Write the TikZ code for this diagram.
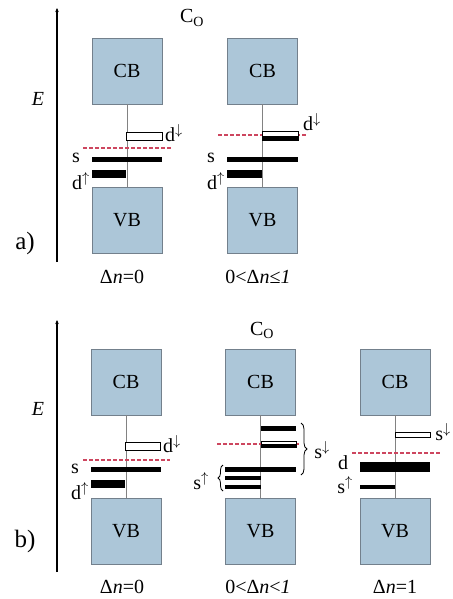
\documentclass[tikz,border=0pt]{standalone}
\usepackage{fontspec}
\setmainfont{Liberation Serif}
\usetikzlibrary{arrows.meta,decorations.pathreplacing}
\definecolor{bandfill}{RGB}{172,198,216}
\definecolor{bandedge}{RGB}{115,128,140}
\definecolor{fermi}{RGB}{205,70,95}
\definecolor{midline}{RGB}{130,130,130}
\begin{document}
\begin{tikzpicture}[x=1pt,y=-1pt,
  band/.style={draw=bandedge, fill=bandfill, line width=0.7pt, minimum width=70pt, minimum height=66pt, inner sep=0pt, font=\fontsize{20}{24}\selectfont},
  lbl/.style={font=\fontsize{20}{24}\selectfont, inner sep=0pt},
  biglbl/.style={font=\fontsize{25}{30}\selectfont, inner sep=0pt},
  gap/.style={draw=midline, line width=0.5pt},
  fermiline/.style={draw=fermi, line width=1.2pt, dash pattern=on 4pt off 2pt},
  openbar/.style={draw=black, fill=white, line width=1pt},
  axis/.style={line width=1.4pt, -{Stealth[length=4pt,width=3.5pt]}},
  bracestyle/.style={decorate, line width=0.8pt},
]
\useasboundingbox (0,0) rectangle (452,599);
\fill[white] (0,0) rectangle (452,599);

% ---------- panel a ----------
\coordinate (axa0) at (57,262);
\coordinate (axa1) at (57,8);
\draw[axis] (axa0) -- (axa1);
\node[lbl, font=\fontsize{20}{24}\selectfont\itshape] (Ea) at (38,99) {E};
\node[biglbl] (la) at (25,243) {a)};
\node[lbl] (coa) at (192,18) {C\textsubscript{O}};

% a1
\node[band] (cba1) at (127,71) {CB};
\node[band] (vba1) at (127,220.5) {VB};
\draw[gap] (cba1) -- (vba1);
\draw[fermiline] (83,148) -- (172,148);
\draw[openbar] (126,132) rectangle (162,140);
\fill (92,157) rectangle (162,162);
\fill (92,170) rectangle (126,178);
\node[lbl] (dda1) at (174,133) {d$^{\downarrow}$};
\node[lbl] (sa1) at (76,158) {s};
\node[lbl] (dua1) at (81,181) {d$^{\uparrow}$};
\node[lbl] (na1) at (122,277) {Δ\textit{n}=0};

% a2
\node[band] (cba2) at (262.5,71) {CB};
\node[band] (vba2) at (262.5,220.5) {VB};
\draw[gap] (cba2) -- (vba2);
\draw[fermiline] (218,135) -- (307,135);
\draw[openbar] (262,131) rectangle (298,140);
\fill (262,135.5) rectangle (298,140);
\fill (227,157) rectangle (298,162);
\fill (227,170) rectangle (262,178);
\node[lbl] (dda2) at (312,122) {d$^{\downarrow}$};
\node[lbl] (sa2) at (211,158) {s};
\node[lbl] (dua2) at (216,181) {d$^{\uparrow}$};
\node[lbl] (na2) at (258,277) {0<Δ\textit{n}≤\textit{1}};

% ---------- panel b ----------
\coordinate (axb0) at (57,572);
\coordinate (axb1) at (57,320);
\draw[axis] (axb0) -- (axb1);
\node[lbl, font=\fontsize{20}{24}\selectfont\itshape] (Eb) at (38,409) {E};
\node[biglbl] (lb) at (25,541) {b)};
\node[lbl] (cob) at (262,330) {C\textsubscript{O}};

% b1
\node[band] (cbb1) at (126,382) {CB};
\node[band] (vbb1) at (126,531) {VB};
\draw[gap] (cbb1) -- (vbb1);
\draw[fermiline] (83,460) -- (170,460);
\draw[openbar] (125,442) rectangle (160,450);
\fill (91,467) rectangle (161,472);
\fill (91,480) rectangle (125,488);
\node[lbl] (ddb1) at (172,444) {d$^{\downarrow}$};
\node[lbl] (sb1) at (75,469) {s};
\node[lbl] (dub1) at (80,491) {d$^{\uparrow}$};
\node[lbl] (nb1) at (122,587) {Δ\textit{n}=0};

% b2
\node[band] (cbb2) at (260.5,382) {CB};
\node[band] (vbb2) at (260.5,531) {VB};
\draw[gap] (cbb2) -- (vbb2);
\draw[fermiline] (217,444) -- (300,444);
\fill (261,426) rectangle (296,431);
\draw[openbar] (261,441) rectangle (296,447);
\fill (261,444) rectangle (296,447);
\fill (225,467) rectangle (296,472);
\fill (225,476) rectangle (261,480);
\fill (225,485) rectangle (261,489);
\coordinate (brR0) at (301,423);
\coordinate (brR1) at (301,475);
\draw[bracestyle, decoration={brace, amplitude=6pt}] (brR0) -- (brR1);
\coordinate (brL0) at (223,491);
\coordinate (brL1) at (223,465);
\draw[bracestyle, decoration={brace, amplitude=5pt}] (brL0) -- (brL1);
\node[lbl] (sdb2) at (322,450) {s$^{\downarrow}$};
\node[lbl] (sub2) at (201,481) {s$^{\uparrow}$};
\node[lbl] (nb2) at (258,587) {0<Δ\textit{n}<\textit{1}};

% b3
\node[band] (cbb3) at (395,382) {CB};
\node[band] (vbb3) at (395,531) {VB};
\draw[gap] (cbb3) -- (vbb3);
\draw[openbar] (395,432) rectangle (430,437);
\draw[fermiline] (352,453) -- (440,453);
\fill (360,462) rectangle (430,472);
\fill (360,485) rectangle (395,489);
\node[lbl] (sdb3) at (443,432) {s$^{\downarrow}$};
\node[lbl] (db3) at (343,463) {d};
\node[lbl] (sub3) at (345,485) {s$^{\uparrow}$};
\node[lbl] (nb3) at (395,587) {Δ\textit{n}=1};
\end{tikzpicture}
\end{document}
